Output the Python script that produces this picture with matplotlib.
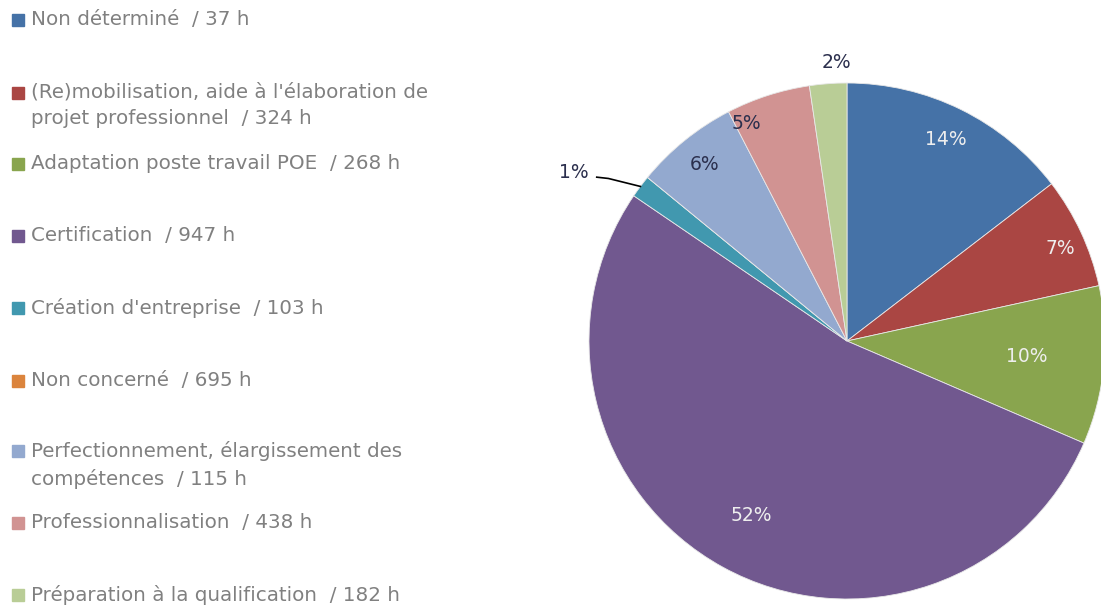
import numpy as np
import matplotlib.pyplot as plt

# donnees
categories = ["Non déterminé", "(Re)mobilisation, aide à l'élaboration de\nprojet professionnel",
              "Adaptation poste travail POE", "Certification", "Création d'entreprise",
              "Non concerné", "Perfectionnement, élargissement des\ncompétences",
              "Professionnalisation", "Préparation à la qualification"]
heures = [37, 324, 268, 947, 103, 695, 115, 438, 182]
parts = [14.4, 6.9, 9.8, 52.4, 1.4, 0.0, 6.4, 5.2, 2.3]
couleurs = ['#4572a7', '#aa4643', '#89a54e', '#71588f', '#4198af',
            '#db843d', '#93a9cf', '#d19392', '#b9cd96']

W, H = 1101, 605
fig = plt.figure(figsize=(W / 100, H / 100), dpi=100)

# camembert : centre (847, 341), rayon 258 px
cx, cy, r = 847, 341, 258
ax = fig.add_axes([(cx - r) / W, (H - cy - r) / H, 2 * r / W, 2 * r / H])
wedges, _ = ax.pie(parts, colors=couleurs, startangle=90, counterclock=False,
                   wedgeprops=dict(edgecolor='#e8e8e8', linewidth=0.6))
ax.set_xlim(-1, 1)
ax.set_ylim(-1, 1)
ax.set_aspect('equal')
ax.axis('off')

# etiquettes en %
dist = [0.87, 0.90, 0.70, 0.77, None, None, 0.88, 0.93, 1.08]
decal = [0, -1.5, 0.5, 0, 0, 0, 0, 7, -2]   # decalage angulaire (deg)
clair = [True, True, True, True, False, False, False, False, False]
for w, p, d, da, c in zip(wedges, parts, dist, decal, clair):
    if d is None:
        continue
    a = np.deg2rad((w.theta1 + w.theta2) / 2 + da)
    ax.text(d * np.cos(a), d * np.sin(a), f"{p:.0f}%", ha='center', va='center',
            fontsize=13.5, color='#eeeeee' if c else '#2b2f4d')

# 1% avec trait de rappel
w = wedges[4]
a = np.deg2rad((w.theta1 + w.theta2) / 2)
x0, y0 = 1.0 * np.cos(a), 1.0 * np.sin(a)
ax.plot([x0, -0.925, -0.97], [y0, 0.630, 0.635], color='black', lw=1.2, clip_on=False)
ax.text(-1.0, 0.655, f"{parts[4]:.0f}%", ha='right', va='center', fontsize=13.5, color='#2b2f4d')

# legende a gauche
ys = [20, 93, 164, 236, 308, 381, 451, 523, 595]
for lab, h, col, y in zip(categories, heures, couleurs, ys):
    fig.patches.append(plt.Rectangle((12 / W, 1 - (y + 6) / H), 12 / W, 12 / H,
                                     transform=fig.transFigure, color=col))
    fig.text(31 / W, 1 - (y - 10) / H, f"{lab}  / {h} h", ha='left', va='top',
             fontsize=14.3, color='#808080', linespacing=1.5)

fig.savefig('out.png', dpi=100)
